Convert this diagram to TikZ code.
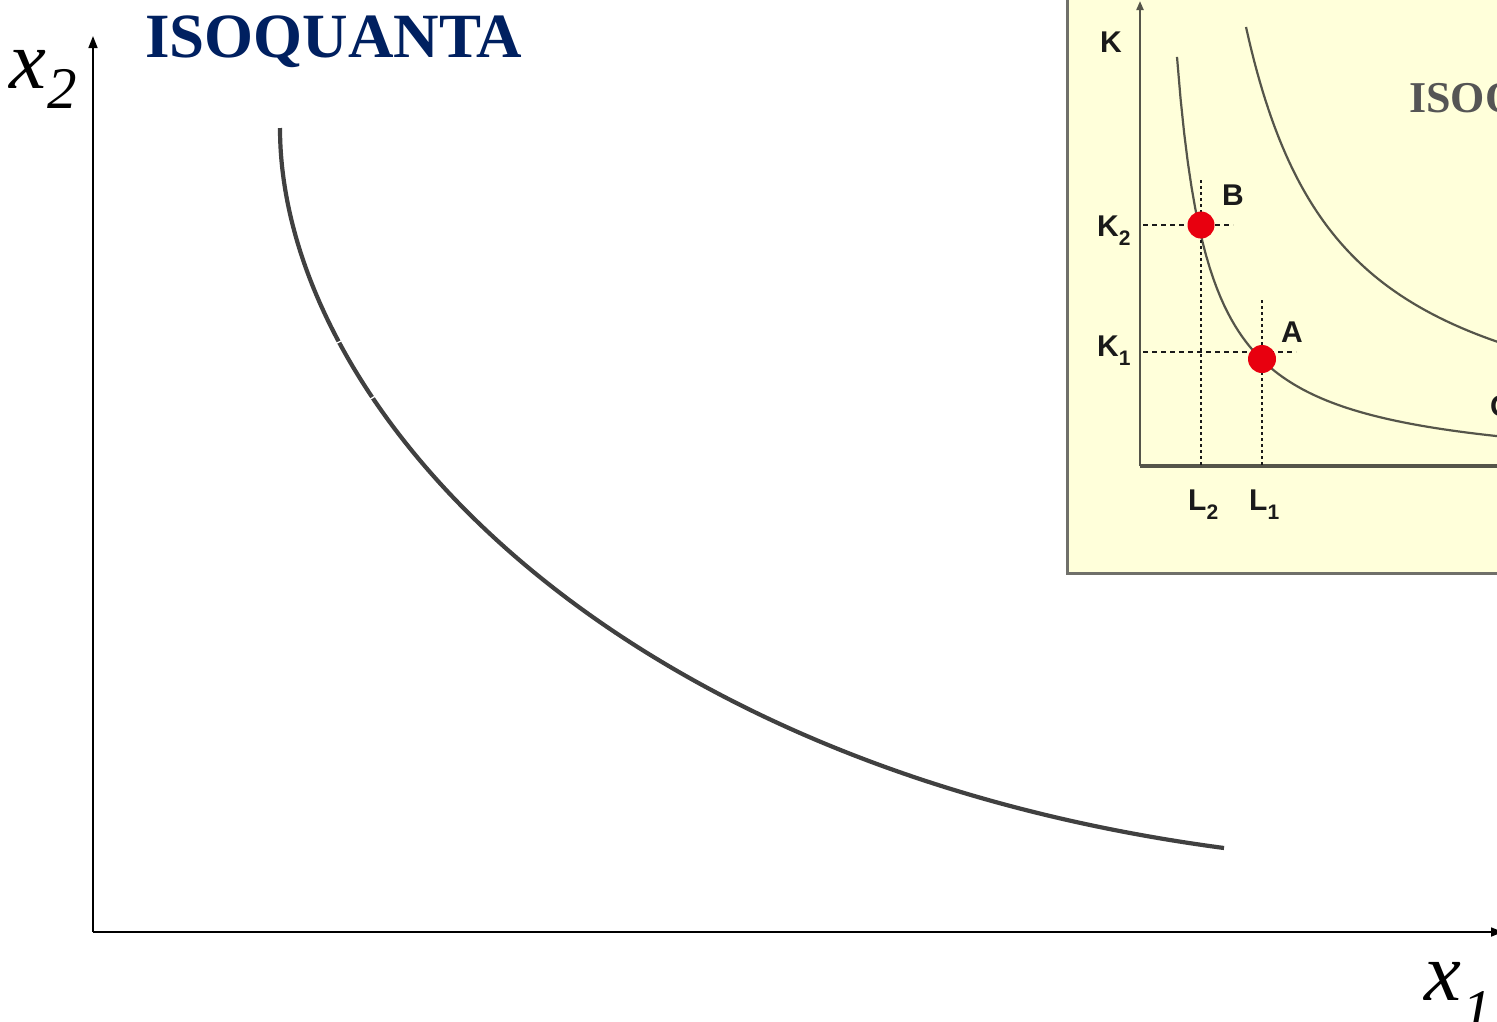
\documentclass[tikz,border=0pt]{standalone}
\usepackage{fontspec}
\setmainfont{Liberation Serif}
\newfontfamily\insetsans{Liberation Sans}
\usetikzlibrary{arrows.meta}
\definecolor{titlenavy}{HTML}{002060}
\definecolor{curvegray}{HTML}{404040}
\definecolor{insetbg}{HTML}{FFFFDA}
\definecolor{insetline}{HTML}{55554A}
\definecolor{insetframe}{HTML}{70706A}
\definecolor{insettext}{HTML}{1A1A1A}
\definecolor{insettitle}{HTML}{555555}
\definecolor{dotred}{HTML}{E8000F}
\newcommand\lowsub[1]{\raisebox{-0.3em}{\fontsize{21}{21}\selectfont #1}}
\begin{document}
\begin{tikzpicture}[x=1pt,y=-1pt,
  mainaxis/.style={black, line width=1.7pt, -{Triangle[width=9pt,length=12pt]}},
  maincurve/.style={curvegray, line width=4.2pt},
  insetaxis/.style={insetline, line width=2pt},
  insetcurve/.style={insetline, line width=2.2pt},
  hguide/.style={insettext, line width=1.6pt, dash pattern=on 5pt off 4pt},
  vguide/.style={insettext, line width=1.6pt, dash pattern=on 3pt off 3pt},
  insetlabel/.style={insettext, font=\insetsans\bfseries\fontsize{30}{30}\selectfont, inner sep=0pt},
  reddot/.style={fill=dotred},
  seam/.style={white, line width=1.3pt}
]
\useasboundingbox (0,0) rectangle (1497,1021);
\clip (0,0) rectangle (1497,1021);
\fill[white] (0,0) rectangle (1497,1021);

% ---------- inset picture ----------
\fill[insetbg] (1066,-5) rectangle (1510,574);
\draw[insetframe, line width=3pt] (1067,-5) -- (1067,573) -- (1510,573);
\coordinate (iO) at (1140,466);
\coordinate (iK) at (1140,1);
\coordinate (iL) at (1510,466);
\draw[insetaxis, -{Triangle[width=7pt,length=9pt]}] (iO) -- (iK);
\draw[insetline, line width=3.5pt] (iO) -- (iL);
\draw[insetcurve] plot[domain=1177:1500, samples=90] (\x, {474 - 133.46/((\x-1145)/100)});
\draw[insetcurve] plot[domain=1246:1500, samples=90] (\x, {462 - 417.64/((\x-1150)/100)});

\coordinate (Bpt) at (1201,225);
\coordinate (Apt) at (1262,359);
\coordinate (Bh1) at (1143,225);
\coordinate (Bh2) at (1233,225);
\coordinate (Bv1) at (1201,180);
\coordinate (Bv2) at (1201,466);
\coordinate (Ah1) at (1143,352);
\coordinate (Ah2) at (1296,352);
\coordinate (Av1) at (1262,300);
\coordinate (Av2) at (1262,466);
\draw[hguide] (Bh1) -- (Bh2);
\draw[vguide] (Bv1) -- (Bv2);
\draw[hguide] (Ah1) -- (Ah2);
\draw[vguide] (Av1) -- (Av2);
\fill[reddot] (Bpt) circle (13.5);
\fill[reddot] (Apt) circle (14);

\node[insetlabel] (lK) at (1111,42) {K};
\node[insetlabel, anchor=base west] (lK2) at (1097,236) {K\lowsub{2}};
\node[insetlabel, anchor=base west] (lK1) at (1097,356) {K\lowsub{1}};
\node[insetlabel, anchor=base west] (lL2) at (1188,510) {L\lowsub{2}};
\node[insetlabel, anchor=base west] (lL1) at (1249,510) {L\lowsub{1}};
\node[insetlabel] (lB) at (1233,195) {B};
\node[insetlabel] (lA) at (1292,332) {A};
\node[insetlabel, anchor=base west] (lQ) at (1490,416) {Q};
\node[anchor=base west, inner sep=0pt, insettitle, font=\bfseries\fontsize{44}{44}\selectfont] (ititle) at (1409,112) {ISOQUANTA};

% ---------- main diagram ----------
\coordinate (O) at (93,932);
\coordinate (Ytip) at (93,36);
\coordinate (Xtip) at (1503,932);
\draw[mainaxis] (O) -- (Ytip);
\draw[mainaxis] (O) -- (Xtip);
\coordinate (cStart) at (280,128);
\coordinate (cEnd) at (1224,848);
\draw[maincurve] (cStart) .. controls (280,400) and (600,765) .. (cEnd);
\coordinate (s1a) at (335,344);
\coordinate (s1b) at (345,339);
\coordinate (s2a) at (367,401);
\coordinate (s2b) at (377,395);
\draw[seam] (s1a) -- (s1b);
\draw[seam] (s2a) -- (s2b);

\node[anchor=base west, inner sep=0pt, titlenavy, font=\bfseries\fontsize{63}{70}\selectfont] (title) at (145,57) {ISOQUANTA};
\node[anchor=base west, inner sep=0pt, font=\itshape\fontsize{83}{90}\selectfont] (x2x) at (9,88) {x};
\node[anchor=base west, inner sep=0pt, font=\itshape\fontsize{59}{64}\selectfont] (x2s) at (47,108) {2};
\node[anchor=base west, inner sep=0pt, font=\itshape\fontsize{83}{90}\selectfont] (x1x) at (1424,1000) {x};
\node[anchor=base west, inner sep=0pt, font=\itshape\fontsize{59}{64}\selectfont] (x1s) at (1462,1030) {1};
\end{tikzpicture}
\end{document}
